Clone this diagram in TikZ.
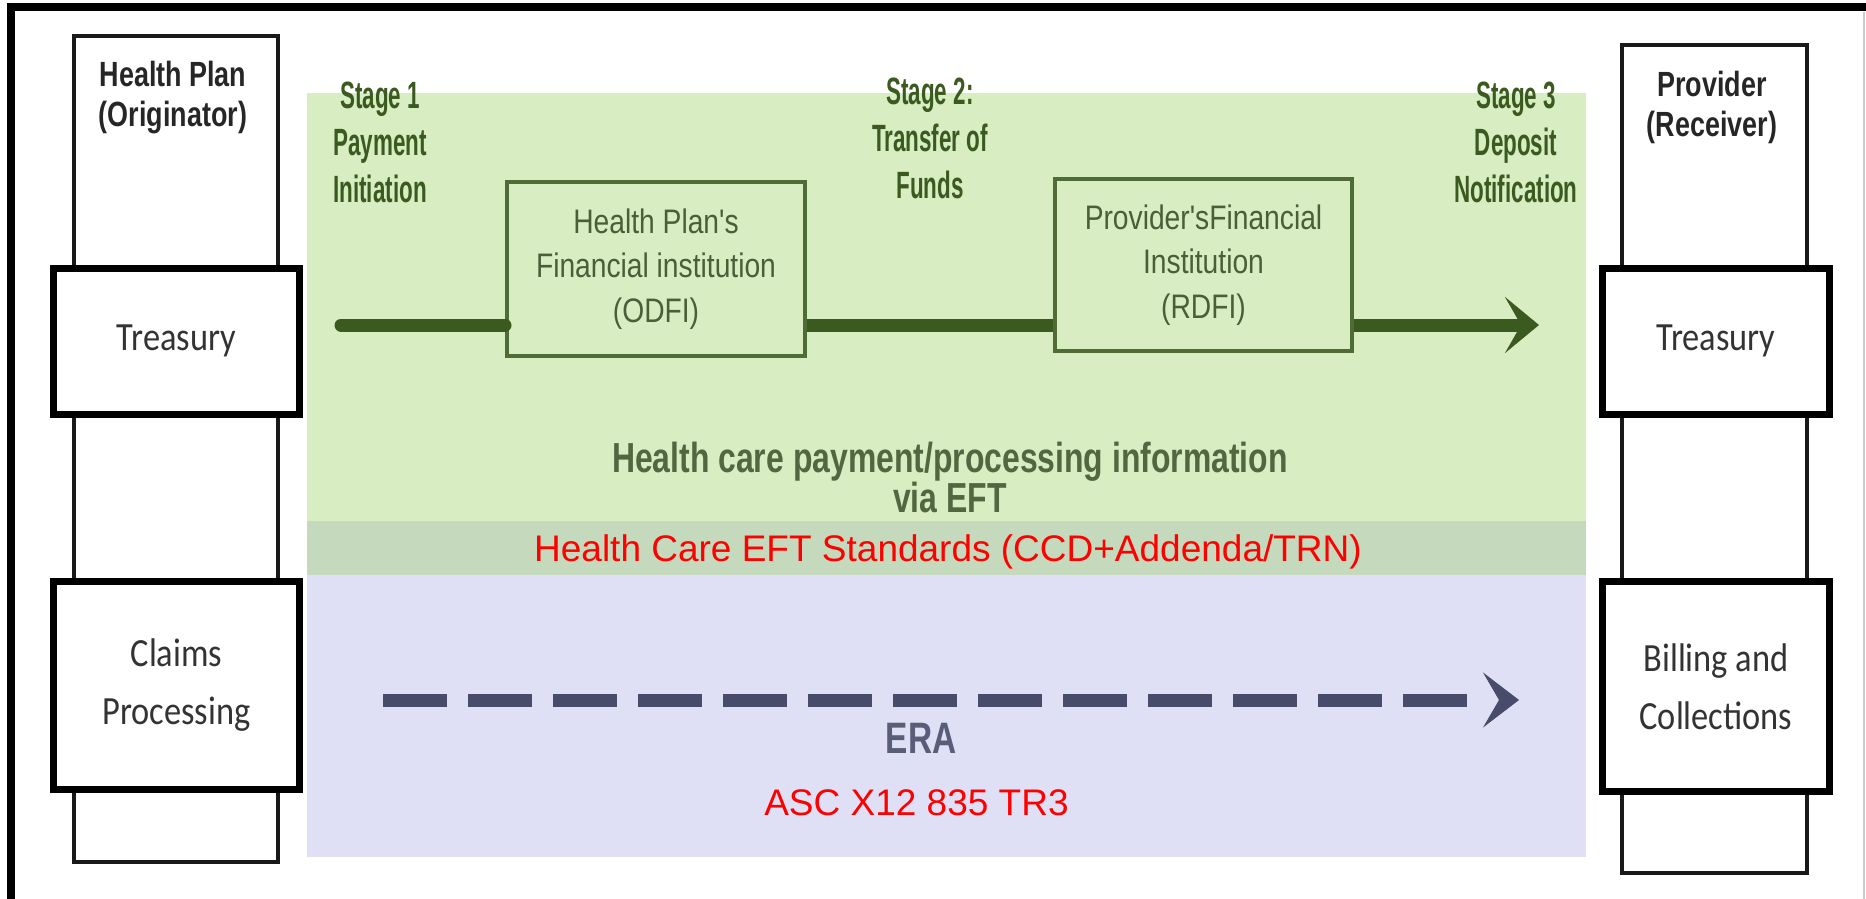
\documentclass[tikz,border=0pt]{standalone}
\usepackage{fontspec}
\setmainfont{Liberation Sans}
\newfontfamily\stagefont[FakeStretch=0.59]{Liberation Sans}
\newfontfamily\titlefont[FakeStretch=0.77]{Liberation Sans}
\newfontfamily\infofont[FakeStretch=0.76]{Liberation Sans}
\newfontfamily\bankfont[FakeStretch=0.83]{Liberation Sans}
\newfontfamily\deptfont[FakeStretch=0.86]{Carlito}
\usetikzlibrary{arrows.meta}
\definecolor{eftgreen}{HTML}{D9EDC3}
\definecolor{stdgreen}{HTML}{C5D9BC}
\definecolor{erablue}{HTML}{DFE0F5}
\definecolor{flowgreen}{HTML}{3B5A20}
\definecolor{labelgreen}{HTML}{4A5E38}
\definecolor{eraslate}{HTML}{484B69}

\begin{document}
\begin{tikzpicture}[x=1pt,y=-1pt]
\tikzstyle{every node}=[inner sep=0pt]
\tikzstyle{party}=[draw=black!90,line width=4pt]
\tikzstyle{dept}=[draw=black,fill=white,line width=7pt,minimum width=246pt,
  align=center,text=black!80,font=\deptfont\fontsize{40}{58}\selectfont]
\tikzstyle{title}=[anchor=north,align=center,text=black!85,
  font=\titlefont\bfseries\fontsize{35}{40}\selectfont]
\tikzstyle{stage}=[anchor=north,align=center,text=flowgreen,
  font=\stagefont\bfseries\fontsize{38}{47}\selectfont]
\tikzstyle{bank}=[draw=flowgreen!90,line width=4pt,align=center,text=labelgreen,
  font=\bankfont\fontsize{34}{44.5}\selectfont]
\tikzstyle{stdlabel}=[anchor=base,text=red,font=\fontsize{37}{44}\selectfont]
\tikzstyle{flow}=[draw=flowgreen,line width=13pt]
\tikzstyle{eraline}=[draw=eraslate,line width=13pt]

\useasboundingbox (0,0) rectangle (1866,899);
\fill[eftgreen] (307,93) rectangle (1586,521);
\fill[stdgreen] (307,521) rectangle (1586,575);
\fill[erablue] (307,575) rectangle (1586,857);

\draw[line width=8pt] (11,899) -- (11,7) -- (1866,7);
\draw[black!20,line width=2pt] (1864,12) -- (1864,899);

\node[party,minimum width=204pt,minimum height=826pt] (plan) at (176,449) {};
\node[party,minimum width=185pt,minimum height=828pt] (provider) at (1714.5,459) {};
\node[title] (plantitle) at (173,61) {Health Plan\\(Originator)};
\node[title] (provtitle) at (1712,71) {Provider\\(Receiver)};

\node[dept,minimum height=146pt] (plantreasury) at (176.5,341) {Treasury};
\node[dept,minimum height=208pt] (claims) at (176.5,685.5) {Claims\\Processing};
\node[dept,minimum width=227pt,minimum height=146pt] (provtreasury) at (1716,341) {Treasury};
\node[dept,minimum width=227pt,minimum height=210pt] (billing) at (1716,686.5) {Billing and\\Collections};

\node[stage] (stage1) at (380,82) {Stage 1\\Payment\\Initiation};
\node[stage] (stage2) at (930,78) {Stage 2:\\Transfer of\\Funds};
\node[stage] (stage3) at (1516,82) {Stage 3\\Deposit\\Notification};

\node[bank,minimum width=298pt,minimum height=174pt] (odfi) at (656,269)
  {Health Plan's\\Financial institution\\(ODFI)};
\node[bank,minimum width=297pt,minimum height=172pt] (rdfi) at (1203.5,265)
  {Provider'sFinancial\\Institution\\(RDFI)};

\coordinate (paystart) at (341,325);
\coordinate (paytip) at (1539,325);
\draw[flow,line cap=round] (paystart) -- (paystart -| odfi.west);
\draw[flow] (odfi.east |- paystart) -- (paystart -| rdfi.west);
\draw[flow,-{Stealth[length=34pt,width=56pt,inset=16pt]}] (rdfi.east |- paystart) -- (paytip);

\node[anchor=north,align=center,text=labelgreen!95,
  font=\infofont\bfseries\fontsize{42}{40}\selectfont] (eftinfo) at (950,442)
  {Health care payment/processing information\\via EFT};
\node[stdlabel] (eftstd) at (948,561) {Health Care EFT Standards (CCD+Addenda/TRN)};

\coordinate (erastart) at (383,700);
\coordinate (eraend) at (1468,700);
\coordinate (erahead) at (1503,700);
\coordinate (eratip) at (1519,700);
\draw[eraline,dash pattern=on 64pt off 21pt] (erastart) -- (eraend);
\draw[eraline,line width=1pt,-{Stealth[length=36pt,width=55pt,inset=16pt]}] (erahead) -- (eratip);
\node[anchor=base,text=eraslate!90,font=\infofont\bfseries\fontsize{44}{50}\selectfont]
  (era) at (921,753) {ERA};
\node[stdlabel] (erastd) at (916.5,815) {ASC X12 835 TR3};
\end{tikzpicture}
\end{document}
